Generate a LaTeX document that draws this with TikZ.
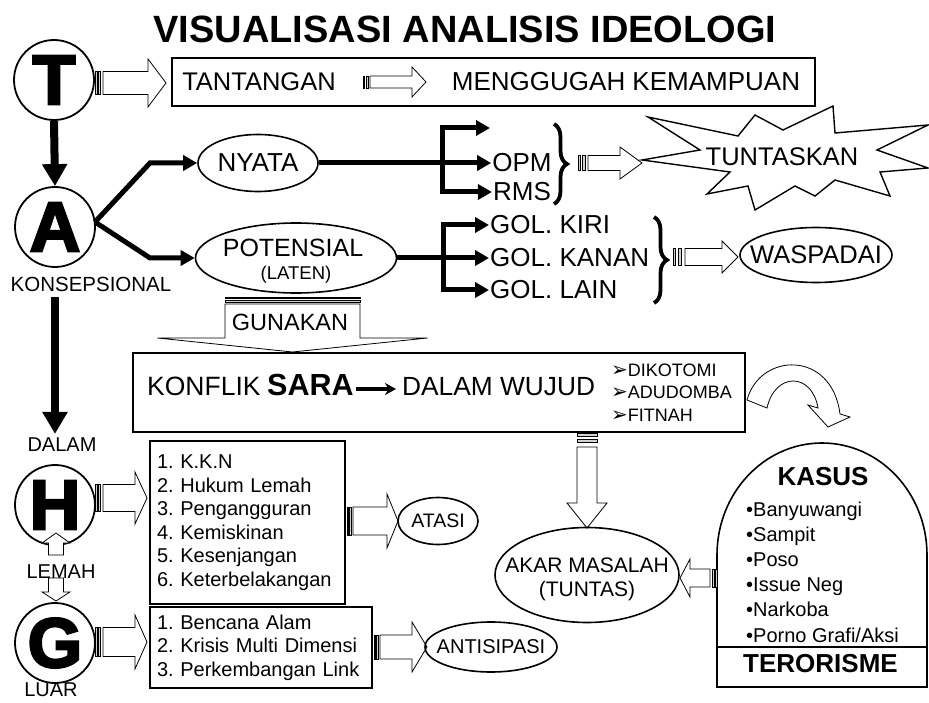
\documentclass[tikz,border=0pt]{standalone}
\usepackage{fontspec}
\setmainfont{Liberation Sans}
\newfontfamily\dejavu{DejaVu Sans}
\newfontfamily\heavy{Liberation Sans}[BoldFeatures={FakeBold=3.5}]
\usetikzlibrary{arrows.meta,shapes.geometric,decorations.pathreplacing}
\frenchspacing
\newcommand\fs[2]{\fontsize{#1}{#2}\selectfont}
% striped block arrow: x, y (tail centre), rotation, stripe length, body length, head length, body half, head half
\newcommand\sarrow[8]{%
\begin{scope}[shift={(#1,#2)},rotate=#3]
\filldraw[fill=gray!35,line width=0.5pt] (0,-#7) rectangle ({0.22*#4},#7);
\filldraw[fill=gray!35,line width=0.5pt] ({0.45*#4},-#7) rectangle ({0.68*#4},#7);
\filldraw[fill=white,line width=0.8pt,line join=miter] (#4,-#7) -- (#5,-#7) -- (#5,-#8) -- ({#5+#6},0) -- (#5,#8) -- (#5,#7) -- (#4,#7) -- cycle;
\end{scope}}
% plain block arrow: x, y, rotation, body length, head length, body half, head half
\newcommand\barrow[7]{%
\begin{scope}[shift={(#1,#2)},rotate=#3]
\filldraw[fill=white,line width=0.8pt,line join=miter] (0,-#6) -- (#4,-#6) -- (#4,-#7) -- ({#4+#5},0) -- (#4,#7) -- (#4,#6) -- (0,#6) -- cycle;
\end{scope}}
\tikzset{
  lbl/.style={inner sep=0pt},
  bigcirc/.style={circle,draw,line width=1.8pt,minimum size=80pt,inner sep=0pt,font={\heavy\bfseries\fs{70}{70}}},
  oval/.style={ellipse,draw,line width=1.6pt,inner sep=0pt},
  thk/.style={line width=5pt,line join=miter},
  atip/.style={-{Triangle[length=14pt,width=15pt]}},
  btip/.style={{Triangle[length=14pt,width=15pt]}-{Triangle[length=14pt,width=15pt]}},
  brc/.style={line width=3.8pt,decorate,decoration={brace,amplitude=13pt}},
  listbox/.style={draw,line width=1.5pt,align=left,inner xsep=7pt,font={\fs{20}{23.5}}}
}
\begin{document}
\begin{tikzpicture}[x=1pt,y=-1pt]
\useasboundingbox (0,0) rectangle (929,703);
\fill[white] (0,0) rectangle (929,703);

% title
\node[lbl,font={\bfseries\fs{38}{40}}] (title) at (465,29) {VISUALISASI ANALISIS IDEOLOGI};

% circles
\node[bigcirc] (T) at (54,80) {T};
\node[bigcirc] (A) at (55,227) {A};
\node[bigcirc] (H) at (55,505) {H};
\node[bigcirc] (G) at (55,643) {G};
\node[lbl,font={\fs{20.5}{24}}] (konsep) at (91,284) {KONSEPSIONAL};
\node[lbl,font={\fs{20}{24}}] (dalam) at (62,445) {DALAM};
\node[lbl,font={\fs{20}{24}}] (lemah) at (61,572) {LEMAH};
\node[lbl,font={\fs{20}{24}}] (luar) at (51,690) {LUAR};

\draw[line width=8pt,-{Triangle[length=22pt,width=24pt]}] (T.south) -- (A.north);
\draw[line width=8pt,-{Triangle[length=22pt,width=24pt]},shorten <=6pt,shorten >=4pt] (A.south |- konsep.south) -- (A.south |- dalam.north);

\barrow{56}{555}{90}{12}{10}{7.5}{14}
\barrow{56}{578}{-90}{14}{9}{7.5}{14}

% T row
\node[draw,line width=1.5pt,minimum width=643pt,minimum height=48pt,inner sep=0pt] (tbox) at (493.5,82) {};
\node[lbl,font={\fs{25.5}{30}}] (tant) at (259,82) {TANTANGAN};
\node[lbl,font={\fs{26}{30}}] (meng) at (626,82) {MENGGUGAH KEMAMPUAN};
\sarrow{95}{83}{0}{8}{53}{18}{11.5}{24}
\sarrow{363}{82}{0}{7}{49}{14}{6}{15}

% NYATA / POTENSIAL
\node[oval,minimum width=120pt,minimum height=57pt] (nyata) at (258,163) {};
\node[lbl,font={\fs{26}{30}}] at (nyata.center) {NYATA};
\node[oval,minimum width=201pt,minimum height=70pt] (pot) at (296,258) {};
\node[lbl,font={\fs{25}{30}}] (potT) at (293,247.5) {POTENSIAL};
\node[lbl,font={\fs{18.5}{22}}] (laten) at (296,275) {(LATEN)};
\coordinate (Aout) at (95,222);
\draw[thk,atip] (Aout) -- (150,163) -- (nyata.west);
\draw[thk,atip] (Aout) -- (150,258) -- (pot.west);

% OPM / RMS
\node[lbl,inner xsep=1pt,font={\fs{26}{30}}] (opm) at (522,163) {OPM};
\node[lbl,inner xsep=1pt,font={\fs{26}{30}}] (rms) at (522,192) {RMS};
\coordinate (top1) at (490,128);
\draw[thk,atip] (nyata.east) -- (opm.west);
\draw[thk,btip] (top1) -- (442,128) -- (442,192) -- (rms.west);
\draw[brc] (554,124) -- (554,204);
\sarrow{578}{163}{0}{10}{42}{22}{7.5}{16}
\draw[line width=1.4pt,fill=white,line join=miter] (642,160) -- (700,150) -- (648,117) -- (738,136) -- (755,115) -- (783,130) -- (833,106) -- (835,133) -- (928,125) -- (877,150) -- (928,168) -- (880,172) -- (890,196) -- (835,180) -- (815,196) -- (795,186) -- (755,210) -- (748,186) -- (707,194) -- (730,172) -- cycle;
\node[lbl,font={\fs{25.5}{30}}] (tunt) at (782,157) {TUNTASKAN};

% GOL
\node[lbl,inner xsep=1pt,anchor=west,font={\fs{26}{30}}] (kiri) at (489,225) {GOL. KIRI};
\node[lbl,inner xsep=1pt,anchor=west,font={\fs{26}{30}}] (kanan) at (489,258) {GOL. KANAN};
\node[lbl,inner xsep=1pt,anchor=west,font={\fs{26}{30}}] (lain) at (489,290) {GOL. LAIN};
\draw[thk,atip] (pot.east) -- (kanan.west);
\draw[thk,btip] (kiri.west) -- (443,225) -- (443,290) -- (lain.west);
\draw[brc] (654,217) -- (654,303);
\sarrow{673}{257}{0}{12}{49}{16}{8.5}{16}
\node[oval,minimum width=152pt,minimum height=55pt] (wasp) at (816,255) {};
\node[lbl,font={\fs{25.5}{30}}] at (wasp.center) {WASPADAI};

% GUNAKAN
\sarrow{292.5}{297}{-90}{7}{41}{14}{67.5}{135}
\node[lbl,font={\fs{23.5}{28}}] (gun) at (290,322) {GUNAKAN};

% KONFLIK box
\node[draw,line width=2pt,minimum width=612pt,minimum height=79pt,inner sep=0pt] (kbox) at (439,392.5) {};
\node[lbl,anchor=base west,font={\fs{26.5}{30}}] (konf) at (147,395) {KONFLIK};
\node[lbl,anchor=base west,font={\bfseries\fs{30.5}{34}}] (sara) at (267,395) {SARA};
\node[lbl,anchor=base west,font={\fs{26.3}{30}}] (wujud) at (402,395) {DALAM WUJUD};
\draw[line width=3.3pt,-{Stealth[length=11pt,width=12pt]},shorten <=2pt,shorten >=6pt] (sara.east |- 0,389) -- (wujud.west |- 0,389);
\node[lbl,anchor=west,align=left,font={\fs{18}{22.5}}] (dlist) at (611,392.5) {{\dejavu\fs{20}{22.5}➢}DIKOTOMI\\{\dejavu\fs{20}{22.5}➢}ADUDOMBA\\{\dejavu\fs{20}{22.5}➢}FITNAH};

% curved arrow
\draw[line width=0.8pt,fill=white,line join=miter] (747,400) .. controls (760,352) and (832,350) .. (840,414) -- (850,417) -- (828,427) -- (808,405) -- (818,408) .. controls (812,372) and (775,372) .. (767,408) -- cycle;

% down to AKAR
\sarrow{587}{433}{-90}{14}{70}{25}{10}{20}
\node[oval,minimum width=184pt,minimum height=95pt] (akar) at (587,575) {};
\node[lbl,font={\fs{21}{25}}] at (587,565.5) {AKAR MASALAH};
\node[lbl,font={\fs{21}{25}}] at (587,591.5) {(TUNTAS)};

% KASUS
\draw[line width=1.6pt] (717,687) -- (717,555) arc[start angle=180,end angle=0,x radius=105pt,y radius=112pt] -- (927,687) -- cycle;
\draw[line width=1.6pt] (717,647) -- (927,647);
\node[lbl,font={\bfseries\fs{26}{30}}] (kasus) at (823,477) {KASUS};
\node[lbl,anchor=west,align=left,font={\fs{20}{25.2}}] (klist) at (746,572) {•Banyuwangi\\•Sampit\\•Poso\\•Issue Neg\\•Narkoba\\•Porno Grafi/Aksi};
\node[lbl,font={\bfseries\fs{26}{30}}] (teror) at (820.5,664) {TERORISME};
\sarrow{717}{578}{180}{7}{27}{10}{9}{19}

% H row
\sarrow{95}{498}{0}{8}{40}{12}{13.5}{26}
\node[listbox,text width=181pt,minimum height=163pt] (hbox) at (247.5,522.5) {1. K.K.N\\2. Hukum Lemah\\3. Pengangguran\\4. Kemiskinan\\5. Kesenjangan\\6. Keterbelakangan};
\sarrow{347}{521}{0}{6}{40}{11}{14}{27}
\node[oval,minimum width=80pt,minimum height=47pt] (atasi) at (438,521) {};
\node[lbl,font={\fs{19.5}{24}}] at (atasi.center) {ATASI};

% G row
\sarrow{95}{642}{0}{8}{40}{12}{14.5}{27}
\node[listbox,text width=208pt,minimum height=81pt] (gbox) at (261,647.5) {1. Bencana Alam\\2. Krisis Multi Dimensi\\3. Perkembangan Link};
\sarrow{374}{647}{0}{6}{38}{15}{12}{25}
\node[oval,minimum width=132pt,minimum height=50pt] (antis) at (491,647) {};
\node[lbl,font={\fs{20}{24}}] at (antis.center) {ANTISIPASI};
\end{tikzpicture}
\end{document}
